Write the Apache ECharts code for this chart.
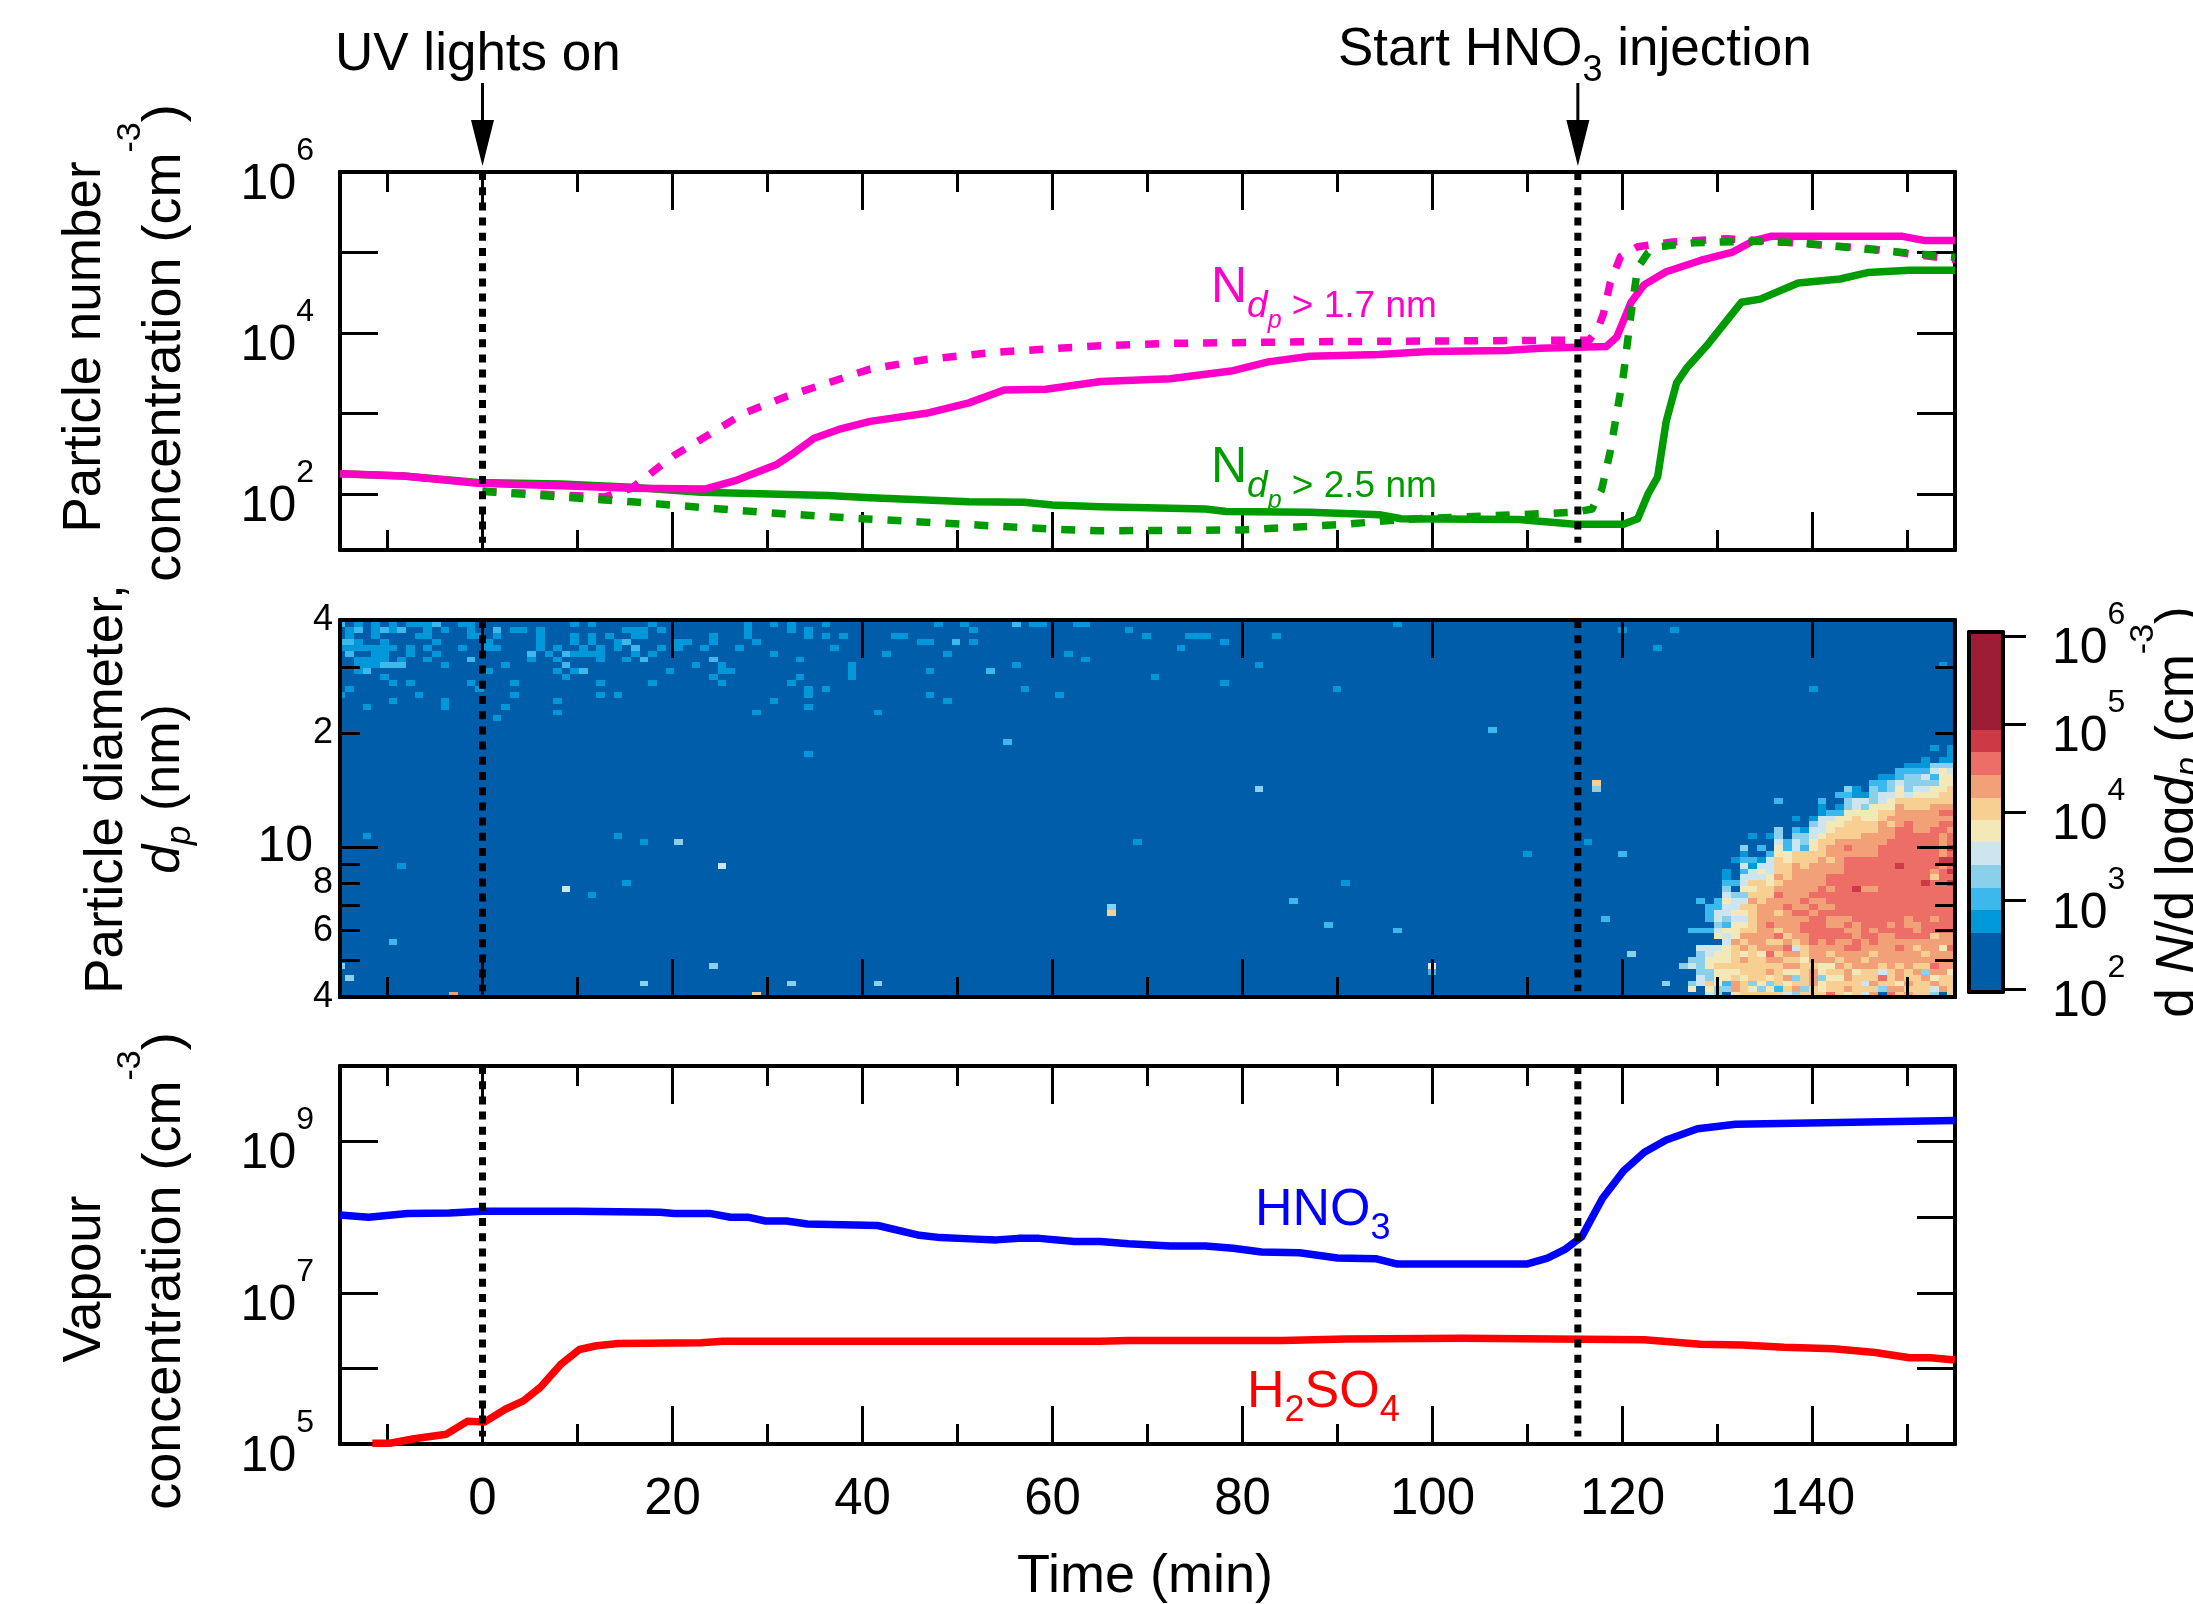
<!DOCTYPE html>
<html><head><meta charset="utf-8">
<style>html,body{margin:0;padding:0;background:#fff}#c{width:2193px;height:1604px}</style>
<script src="https://cdn.jsdelivr.net/npm/echarts@6/dist/echarts.min.js"></script>
</head><body><div id="c"></div>
<script>
// ---------- data: [time (min), log10(concentration)] ----------
const timeMajorTicks=[0,20,40,60,80,100,120,140];
const timeMinorTicks=[-10,10,30,50,70,90,110,130,150];
const eventTimes=[0,115.3];
const nAbove17Solid=[[-15,2.25],[-8.3,2.22],[-0.5,2.13],[8.3,2.10],[15.7,2.07],[23.5,2.06],[26.8,2.17],[30.9,2.36],[32.7,2.5],[34.9,2.69],[37.5,2.8],[40.8,2.9],[46.7,3.0],[51.2,3.13],[54.9,3.29],[59.3,3.3],[65.1,3.395],[72.4,3.43],[79,3.53],[82.7,3.64],[87.1,3.71],[94.4,3.73],[99.6,3.77],[107.7,3.78],[111.3,3.81],[118.3,3.83],[119.4,3.95],[120.9,4.38],[122.3,4.6],[124.6,4.76],[128.2,4.9],[131.5,5.0],[133.7,5.14],[135.6,5.2],[149.5,5.2],[151.7,5.15],[155,5.15]];
const nAbove17Dashed=[[0,2.03],[12.8,1.96],[15.7,2.07],[16.8,2.17],[20.2,2.48],[23.9,2.74],[27.5,3.0],[32,3.21],[36.4,3.38],[40.8,3.55],[46.7,3.67],[54.1,3.76],[65,3.84],[72.4,3.87],[87,3.89],[102,3.9],[116.5,3.91],[117.4,4.05],[118,4.24],[118.7,4.62],[119.8,4.95],[121.6,5.07],[125.3,5.13],[131,5.17],[135.6,5.14],[145.8,5.05],[155,4.91]];
const nAbove25Solid=[[-15,2.25],[-8.3,2.22],[-0.5,2.14],[8.3,2.12],[15.7,2.08],[23,2.02],[36.4,1.98],[40.8,1.95],[51.2,1.90],[57,1.895],[60,1.86],[65,1.84],[76.1,1.81],[78.3,1.78],[87.1,1.77],[94.4,1.74],[96.7,1.69],[109.1,1.68],[115,1.62],[120.1,1.62],[121.6,1.69],[122.7,2.0],[123.7,2.21],[124.6,2.9],[125.7,3.38],[126.8,3.57],[129,3.86],[132.5,4.38],[134.5,4.42],[138.5,4.62],[142.9,4.67],[145.8,4.75],[150.2,4.78],[155,4.78]];
const nAbove25Dashed=[[0,2.03],[15.7,1.90],[30.5,1.76],[40,1.69],[60,1.56],[65,1.54],[79.8,1.55],[90.8,1.62],[96.7,1.68],[109,1.74],[115,1.77],[116.8,1.81],[117.8,2.05],[118.7,2.52],[119.6,3.14],[120.1,3.48],[120.5,3.86],[120.9,4.24],[121.6,4.81],[122.7,5.0],[123.8,5.07],[127.5,5.12],[133.4,5.14],[138.5,5.12],[145.8,5.04],[155,4.94]];
const hno3=[[-15,8.03],[-12,8.0],[-7.9,8.05],[-3.5,8.055],[0,8.08],[9.8,8.08],[18.7,8.065],[20.2,8.05],[23.9,8.05],[26.1,8.0],[27.9,8.0],[29.8,7.95],[32,7.95],[34.2,7.91],[41.6,7.89],[46,7.76],[48.2,7.73],[51.9,7.71],[54.1,7.70],[56.4,7.72],[58.6,7.72],[62.3,7.68],[65,7.68],[68,7.65],[72.4,7.62],[76.1,7.62],[79,7.59],[82,7.54],[86,7.53],[90,7.46],[94.1,7.45],[96.3,7.38],[109.9,7.38],[112.1,7.46],[113.9,7.57],[115.7,7.74],[117.9,8.25],[120.1,8.61],[122.3,8.86],[124.6,9.02],[127.9,9.17],[131.9,9.23],[155,9.28]];
const h2so4=[[-11.6,5.01],[-9.75,5.01],[-7.2,5.07],[-3.8,5.13],[-1.6,5.3],[0.2,5.29],[2.4,5.46],[4.3,5.57],[6.1,5.75],[8.3,6.06],[10.2,6.25],[12,6.3],[14.3,6.33],[23,6.34],[25.3,6.36],[65,6.36],[68,6.37],[84.2,6.37],[90.8,6.39],[103.3,6.40],[122.3,6.38],[128.2,6.32],[132.6,6.31],[137,6.28],[142.2,6.26],[146.6,6.21],[150.2,6.14],[152.4,6.14],[155,6.11]];
// size-distribution contour levels (colour-bar bands, lower edges as log10) and colours
const levelEdges=[1.966,2.64,2.89,3.15,3.40,3.66,3.91,4.16,4.42,4.68,4.93,6.045];
const levelColors=['#005daa','#0098d8','#3cb8ec','#8ad0ea','#cde5ee','#f3e9b8','#f8cf92','#f2a078','#ec6e66','#cd3a46','#9b1c34'];
// scattered cells: [column, row, level]; column = time bin from the left, row = size bin from the bottom
const sparseCells=[
[-1,63,2],[1,63,1],[3,63,1],[5,63,1],[7,63,1],[8,63,1],[9,63,1],[10,63,2],[13,63,1],[14,63,1],[26,63,1],[28,63,1],[35,63,1],[46,63,1],[49,63,1],[51,63,1],[55,63,1],[68,63,1],[71,63,1],[77,63,2],[79,63,1],[80,63,1],[84,63,1],[85,63,1],[121,63,1],
[0,62,1],[1,62,2],[3,62,1],[4,62,2],[5,62,1],[6,62,2],[9,62,1],[11,62,1],[14,62,1],[17,62,2],[19,62,1],[20,62,1],[22,62,1],[32,62,1],[33,62,1],[34,62,1],[36,62,1],[46,62,1],[51,62,1],[53,62,1],[72,62,1],[90,62,1],[147,62,1],[153,62,1],
[0,61,1],[3,61,1],[8,61,1],[9,61,1],[14,61,1],[15,61,1],[17,61,1],[22,61,1],[26,61,1],[28,61,1],[30,61,1],[33,61,1],[34,61,1],[42,61,1],[46,61,1],[53,61,1],[55,61,1],[57,61,1],[63,61,1],[64,61,1],[92,61,1],[97,61,1],[98,61,1],[99,61,1],[107,61,1],
[-1,60,2],[0,60,2],[1,60,1],[4,60,1],[10,60,1],[16,60,1],[22,60,1],[26,60,1],[28,60,1],[31,60,1],[32,60,2],[38,60,1],[39,60,1],[42,60,1],[47,60,1],[66,60,1],[67,60,1],[70,60,2],[72,60,1],[101,60,1],
[-1,59,1],[0,59,1],[1,59,1],[2,59,1],[3,59,1],[4,59,1],[5,59,1],[7,59,1],[9,59,1],[13,59,1],[16,59,1],[17,59,1],[22,59,1],[24,59,1],[27,59,1],[29,59,1],[31,59,1],[33,59,2],[36,59,1],[38,59,1],[41,59,1],[45,59,1],[56,59,1],[96,59,1],[151,59,1],
[0,58,2],[3,58,1],[4,58,1],[7,58,1],[10,58,1],[21,58,2],[23,58,1],[25,58,2],[26,58,1],[27,58,1],[28,58,1],[29,58,1],[33,58,1],[35,58,1],[49,58,1],[62,58,1],[69,58,1],[83,58,1],
[1,57,1],[2,57,1],[3,57,1],[4,57,1],[6,57,1],[9,57,1],[14,57,2],[21,57,1],[24,57,1],[29,57,1],[32,57,1],[34,57,2],[42,57,2],[52,57,1],[85,57,1],
[1,56,1],[2,56,1],[3,56,1],[4,56,2],[5,56,2],[6,56,2],[11,56,1],[18,56,1],[25,56,2],[40,56,1],[43,56,1],[58,56,1],[77,56,1],[105,56,1],[184,56,1],
[1,55,1],[2,55,2],[16,55,1],[24,55,1],[26,55,1],[27,55,2],[37,55,1],[43,55,1],[44,55,1],[58,55,1],[67,55,1],[74,55,2],
[4,54,1],[25,54,1],[42,54,1],[52,54,1],[58,54,1],[93,54,1],
[5,53,1],[7,53,1],[14,53,1],[19,53,1],[29,53,1],[35,53,1],[43,53,1],[51,53,1],[101,53,1],
[0,52,1],[15,52,1],[53,52,1],[55,52,1],[78,52,1],[114,52,1],[169,52,1],
[-1,51,1],[8,51,1],[19,51,1],[29,51,1],[31,51,1],[53,51,1],[67,51,1],[82,51,1],
[5,50,1],[11,50,1],[24,50,1],[49,50,1],[69,50,1],
[2,49,1],[11,49,1],[18,49,1],[53,49,1],
[24,48,1],[47,48,1],[61,48,1],
[17,47,1],
[132,45,2],[76,43,2],[183,42,1],[185,42,1],[185,41,1],[53,41,1],
[144,36,6],[105,35,3],[144,35,3],[2,27,1],[31,27,1],[34,26,1],[38,26,3],[91,26,1],[143,26,1],[136,24,1],[147,24,2],[6,22,1],[43,22,4],
[32,19,1],[115,19,1],[25,18,4],[28,17,1],[109,16,2],[88,15,3],[88,14,6],[145,13,2],[113,12,2],[121,11,2],[5,9,2],[148,7,3],
[-1,5,3],[42,5,3],[125,5,5],[154,5,3],[125,4,2],[0,3,3],[34,2,3],[51,2,3],[61,2,3],[152,2,3],[12,0,7],[47,0,6]];
// dense region: blobRows[r] lists the levels of columns 155..185 in size bin r; 0 = lowest band
const blobRows=[
"004305666664366"+"6865647086766306",
"505337653526736"+"5667666377666476",
"346527635365667"+"5666647665766766",
"043556566567367"+"3557666867667566",
"033555666765567"+"5667566467673775",
"435666666667766"+"5576777676766877",
"335556766776657"+"7767767777777777",
"034556565867767"+"7677776777776777",
"044456767778467"+"7778877778767758",
"000047677667678"+"7877878777777777",
"000545777786778"+"8888788778888677",
"222455667767788"+"8887787888878888",
"000325567877788"+"8778788878778888",
"002434467777778"+"8777888888788788",
"002445567767887"+"8888888888888888",
"002244667778778"+"7788888888888888",
"020254476777787"+"7888888888888888",
"000043366687778"+"8888888888888888",
"000030556677777"+"8788977888888888",
"000022466567777"+"7888888888889889",
"000010444576777"+"7888888888888688",
"000010245466777"+"7778888888888789",
"000000414466767"+"7778888889888878",
"000001221465666"+"7678888888888899",
"000000100255666"+"6777777888888878",
"000000302052425"+"6778777888888879",
"000000000042435"+"6677777788888878",
"000000010130334"+"5666677778888878",
"000000000030214"+"4566666778877887",
"000000000000003"+"4556666767877788",
"000000000000101"+"4455655677777777",
"000000000000000"+"1225555667777788",
"000000000000000"+"1013435557666777",
"000000000020000"+"2003443456666666",
"000000000000000"+"0022113445455566",
"000000000000000"+"0003103235344556",
"000000000000000"+"0000002234333355",
"000000000000000"+"0000000112334255",
"000000000000000"+"0000000002222454",
"000000000000000"+"0000000000111333",
"000000000000000"+"0000000000001011"];
const blobFirstColumn=155;
const diameterTicks=[40,30,20,9,8,7,6,5,4];
const diameterLongTicks=[10];
const diameterLabels={40:'4',20:'2',10:'10',8:'8',6:'6',4:'4'};
const colorbarTicks=[2,3,4,5,6];

// ---------- layout ----------
const FONT='"Liberation Sans"';
const L=340,W=1615;
const P=[{top:172,height:378},{top:620,height:377},{top:1066,height:378}];
const grids=[...P.map(p=>({left:L,width:W,top:p.top,height:p.height,containLabel:false})),
  {left:1969,width:34,top:632,height:360}];
grids[1].show=true;grids[1].backgroundColor=levelColors[0];grids[1].borderWidth=0;
const xAxes=[],yAxes=[];
const LW=4,TW=3;
function xAx(g,pos,ticks,len,extra){
  xAxes.push(Object.assign({gridIndex:g,type:'value',min:-15,max:155,position:pos,z:g==1?4:1,
    splitLine:{show:false},
    axisLine:{show:true,onZero:false,lineStyle:{color:'#000',width:LW}},
    axisTick:{show:!!ticks,inside:true,length:len,customValues:ticks||undefined,lineStyle:{color:'#000',width:TW}},
    axisLabel:{show:false}},extra||{}));
  return xAxes.length-1;
}
const xMain=[0,1,2].map(g=>{
  const label=g==2?{axisLabel:{show:true,customValues:timeMajorTicks,fontFamily:FONT,fontSize:51,color:'#000',margin:30,hideOverlap:false}}:{};
  const i=xAx(g,'bottom',timeMajorTicks,38,label);
  xAx(g,'bottom',timeMinorTicks,20);
  xAx(g,'top',timeMajorTicks,38);
  if(g!=1)xAx(g,'top',timeMinorTicks,20);
  return i;
});
const rich={b:{fontFamily:FONT,fontSize:50,lineHeight:50,padding:[26,0,0,0],color:'#000'},s:{fontFamily:FONT,fontSize:32,lineHeight:34,padding:[0,0,42,0],color:'#000'}};
function logAx(g,pos,min,max,labelled){
  yAxes.push({gridIndex:g,type:'log',logBase:10,min,max,position:pos,z:1,
    splitLine:{show:false},minorTick:{show:false},
    axisLine:{show:true,onZero:false,lineStyle:{color:'#000',width:LW}},
    axisTick:{show:true,inside:true,length:38,lineStyle:{color:'#000',width:TW}},
    axisLabel:{show:labelled.length>0,margin:26,rich,hideOverlap:false,showMinLabel:true,showMaxLabel:true,
      formatter:v=>{const e=Math.round(Math.log10(v));return Math.abs(Math.log10(v)-e)<1e-6&&labelled.includes(e)?`{b|10}{s|${e}}`:''}}});
  return yAxes.length-1;
}
const y0=logAx(0,'left',20,1e6,[6,4,2]);logAx(0,'right',20,1e6,[]);
// size axis is linear in log10(dp), which is a log scale of diameter
const dMin=Math.log10(4),dMax=Math.log10(40);
function dAx(pos,ticks,len,labelled){
  yAxes.push({gridIndex:1,type:'value',min:dMin,max:dMax,position:pos,z:4,splitLine:{show:false},
    axisLine:{show:true,onZero:false,lineStyle:{color:'#000',width:LW}},
    axisTick:{show:true,inside:true,length:len,customValues:ticks.map(Math.log10),lineStyle:{color:'#000',width:TW}},
    axisLabel:labelled?{show:true,margin:7,hideOverlap:false,customValues:Object.keys(diameterLabels).map(k=>Math.log10(+k)),
      rich:{big:{fontFamily:FONT,fontSize:50,color:'#000',padding:[0,20,0,0]},sm:{fontFamily:FONT,fontSize:36,color:'#000'}},
      formatter:v=>{const d=Math.round(Math.pow(10,v));return d==10?'{big|10}':`{sm|${diameterLabels[d]||''}}`}}:{show:false}});
  return yAxes.length-1;
}
const y1=dAx('left',diameterTicks,20,true);dAx('left',diameterLongTicks,38,false);
dAx('right',diameterTicks,20,false);dAx('right',diameterLongTicks,38,false);
const y2=logAx(2,'left',1e5,1e10,[9,7,5]);logAx(2,'right',1e5,1e10,[]);
// colour bar axes
xAxes.push({gridIndex:3,type:'value',min:0,max:1,position:'bottom',z:4,axisLine:{show:true,onZero:false,lineStyle:{color:'#000',width:LW}},axisTick:{show:false},axisLabel:{show:false},splitLine:{show:false}});
const xC=xAxes.length-1;
xAxes.push({gridIndex:3,type:'value',min:0,max:1,position:'top',z:4,axisLine:{show:true,onZero:false,lineStyle:{color:'#000',width:LW}},axisTick:{show:false},axisLabel:{show:false},splitLine:{show:false}});
yAxes.push({gridIndex:3,type:'value',min:1.966,max:6.045,position:'left',z:4,axisLine:{show:true,onZero:false,lineStyle:{color:'#000',width:LW}},axisTick:{show:false},axisLabel:{show:false},splitLine:{show:false}});
const yC=yAxes.length-1;
yAxes.push({gridIndex:3,type:'value',min:1.966,max:6.045,position:'right',z:4,splitLine:{show:false},
  axisLine:{show:true,onZero:false,lineStyle:{color:'#000',width:LW}},
  axisTick:{show:true,inside:false,length:23,customValues:colorbarTicks,lineStyle:{color:'#000',width:TW}},
  axisLabel:{show:true,margin:49,customValues:colorbarTicks,rich,hideOverlap:false,formatter:v=>`{b|10}{s|${v}}`}});

// ---------- series ----------
const toConc=a=>a.map(([t,e])=>[t,Math.pow(10,e)]);
const MAG='#ff00c8',GRN='#009b00';
function line(name,data,color,dashed,xi,yi,z){
  return {name,type:'line',xAxisIndex:xi,yAxisIndex:yi,data:toConc(data),showSymbol:false,symbol:'none',z:z||2,
    lineStyle:{color,width:7.5,type:dashed?[14,15]:'solid',cap:'butt',join:'round'},silent:true,animation:false};
}
const series=[
  line('N dp>2.5 solid',nAbove25Solid,GRN,false,xMain[0],y0,2),
  line('N dp>1.7 solid',nAbove17Solid,MAG,false,xMain[0],y0,3),
  line('N dp>1.7 dashed',nAbove17Dashed,MAG,true,xMain[0],y0,4),
  line('N dp>2.5 dashed',nAbove25Dashed,GRN,true,xMain[0],y0,5),
  line('HNO3',hno3,'#0000ff',false,xMain[2],y2,3),
  line('H2SO4',h2so4,'#ff0000',false,xMain[2],y2,3)
];
// size distribution cells
const colW=8.66/9.5, t0=(345.33-482.5)/9.5, rowH=1/64, r0=dMin-1.2/377;
const cells=sparseCells.slice();
blobRows.forEach((s,r)=>{[...s].forEach((ch,i)=>{if(ch!=='0')cells.push([blobFirstColumn+i,r,+ch])})});
series.push({type:'custom',name:'dN/dlogdp',xAxisIndex:xMain[1],yAxisIndex:y1,z:2,silent:true,clip:true,
  data:cells.map(([c,r,l])=>[t0+c*colW,r0+r*rowH,t0+(c+1)*colW,r0+(r+1)*rowH,l]),
  encode:{x:[0,2],y:[1,3]},
  renderItem(p,api){
    const a=api.coord([api.value(0),api.value(1)]),b=api.coord([api.value(2),api.value(3)]);
    const x0=Math.round(a[0]),x1=Math.round(b[0]),yb=Math.round(a[1]),yt=Math.round(b[1]);
    const rect=echarts.graphic.clipRectByRect({x:x0,y:yt,width:x1-x0,height:yb-yt},p.coordSys);
    return rect&&{type:'rect',shape:rect,style:{fill:levelColors[api.value(4)],stroke:null,lineWidth:0}};
  }});
// colour bar bands
series.push({type:'custom',name:'colorbar',xAxisIndex:xC,yAxisIndex:yC,z:2,silent:true,
  data:levelColors.map((c,i)=>[0,levelEdges[i],1,levelEdges[i+1],i]),encode:{x:[0,2],y:[1,3]},
  renderItem(p,api){
    const a=api.coord([api.value(0),api.value(1)]),b=api.coord([api.value(2),api.value(3)]);
    const yb=Math.round(a[1]),yt=Math.round(b[1]);
    return {type:'rect',shape:{x:a[0],y:yt,width:b[0]-a[0],height:yb-yt},style:{fill:levelColors[api.value(4)]}};
  }});
// event markers
const spans=[[xMain[0],y0,1e6,Math.pow(10,1.39)],[xMain[1],y1,dMax,dMin+0.015],[xMain[2],y2,1e10,Math.pow(10,5.1)]];
eventTimes.forEach(t=>spans.forEach(([xi,yi,hi,lo])=>series.push({type:'line',name:'event',xAxisIndex:xi,yAxisIndex:yi,z:6,showSymbol:false,symbol:'none',silent:true,
  data:[[t,hi],[t,lo]],lineStyle:{color:'#000',width:7,type:[8,7.2],cap:'butt'}})));
// arrows above the top panel
series.push({type:'custom',name:'arrows',xAxisIndex:xMain[0],yAxisIndex:y0,z:7,silent:true,clip:false,
  data:eventTimes.map(t=>[t]),encode:{x:0},
  renderItem(p,api){
    const c=api.coord([api.value(0),1e6]);const x=c[0],y=c[1];
    return {type:'group',children:[
      {type:'line',shape:{x1:x,y1:y-89,x2:x,y2:y-45},style:{stroke:'#000',lineWidth:3}},
      {type:'polygon',shape:{points:[[x-11.5,y-52],[x+11.5,y-52],[x,y-6]]},style:{fill:'#000'}}]};
  }});

// ---------- text ----------
function T(x,y,text,richSet,align){
  return {type:'text',x,y,silent:true,z:20,style:{text,rich:richSet,fontFamily:FONT,align:align||'left',verticalAlign:'middle',fill:'#000'}};
}
const tok=(size,pad,color,it)=>({fontFamily:FONT,fontSize:size,lineHeight:size,padding:pad,fill:color||'#000',fontStyle:it?'italic':'normal'});
function rotate(o){o.rotation=Math.PI/2;o.style.align='center';return o}
function annot(x,y,text){return T(x,y,text,{m:tok(53,[0,0,17,0]),s:tok(36,[25,0,0,0])})}
function nLabel(x,y,color,txt){
  return T(x,y,`{N|N}{d|d}{p|p}{t|${txt}}`,{N:tok(50,[0,0,50,0],color),d:tok(37,[25,0,38,0],color,true),p:tok(25,[46,0,29,0],color,true),t:tok(37,[25,0,38,0],color)});
}
function yTitle(x,y,text){return rotate(T(x,y,`{a|${text}}`,{a:tok(53,[0,0,0,0])}))}
function yTitleSup(x,y,head,tail){
  const r={m:tok(54,[25,0,0,0]),s:tok(34,[0,0,45,0])};
  return rotate(T(x,y,`{m|${head}}{s|-3}{m|${tail}}`,r));
}
const graphics=[
  annot(335,64,'{m|UV lights on}'),
  annot(1338,59,'{m|Start HNO}{s|3}{m| injection}'),
  nLabel(1211,313,MAG,' > 1.7 nm'),
  nLabel(1211,493,GRN,' > 2.5 nm'),
  T(1255,1216,'{m|HNO}{s|3}',{m:tok(52,[0,0,11,0],'#0000ff'),s:tok(36,[27,0,0,0],'#0000ff')}),
  T(1247,1398,'{m|H}{s|2}{m|SO}{s|4}',{m:tok(52,[0,0,11,0],'#ff0000'),s:tok(36,[27,0,0,0],'#ff0000')}),
  yTitle(85,347,'Particle number'),
  yTitleSup(153,343,'concentration (cm',')'),
  yTitle(107,789,'Particle diameter,'),
  rotate(T(172,789,'{i|d}{j|p}{m| (nm)}',{i:tok(52,[0,0,14,0],'#000',true),j:tok(35,[17,0,0,0],'#000',true),m:tok(52,[0,0,14,0])})),
  yTitle(85,1279,'Vapour'),
  yTitleSup(153,1271,'concentration (cm',')'),
  {type:'text',x:1145,y:1577,silent:true,z:20,style:{text:'Time (min)',fontFamily:FONT,fontSize:54,align:'center',verticalAlign:'middle',fill:'#000'}},
  rotate(T(2166,812,'{m|d }{i|N}{m|/d log}{i|d}{j|p}{m| (cm}{s|-3}{m|)}',{m:tok(53,[25,0,0,0]),i:tok(53,[25,0,0,0],'#000',true),j:tok(34,[45,0,0,0],'#000',true),s:tok(34,[0,0,45,0])}))
];

const chart=echarts.init(document.getElementById('c'),null,{renderer:'canvas'});
chart.setOption({animation:false,backgroundColor:'#fff',textStyle:{fontFamily:FONT},
  grid:grids,xAxis:xAxes,yAxis:yAxes,series,graphic:{elements:graphics}});
</script></body></html>
